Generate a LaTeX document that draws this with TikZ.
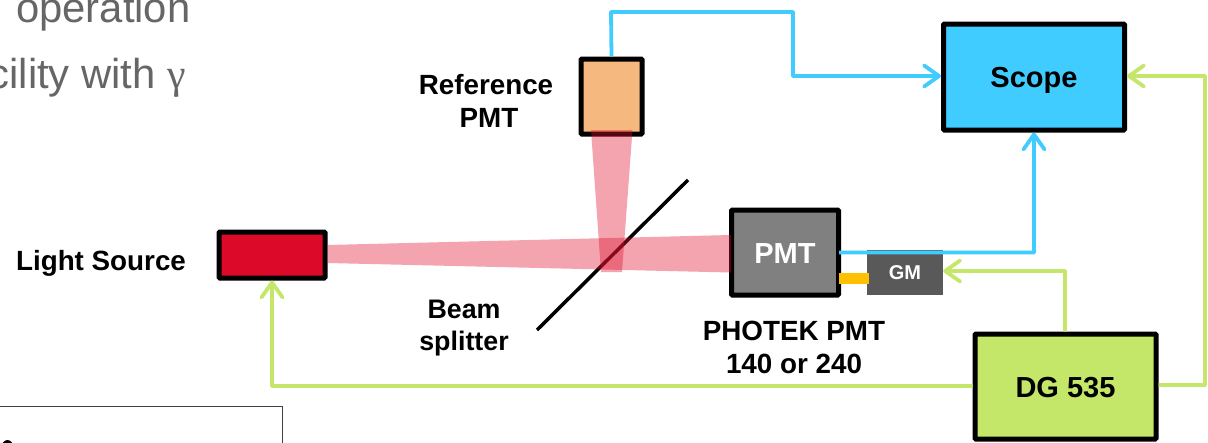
\documentclass[tikz,border=0pt]{standalone}
\usepackage{fontspec}
\setmainfont{Liberation Sans}
\newfontfamily\serifgamma{Liberation Serif}
\usetikzlibrary{arrows.meta}
\definecolor{cyanline}{HTML}{40CCFF}
\definecolor{greenline}{HTML}{C4E76A}
\definecolor{graytext}{HTML}{666666}
\definecolor{beamred}{HTML}{E0102F}
\definecolor{orangebox}{HTML}{F5B97F}
\definecolor{redbox}{HTML}{DC0A28}
\definecolor{pmtgray}{HTML}{808080}
\definecolor{gmgray}{HTML}{595959}
\definecolor{ambergold}{HTML}{FFC000}
\tikzset{
  x=1pt,y=-1pt,
  devbox/.style={draw=black,line width=5pt,rounded corners=1pt,inner sep=0pt,
    text height=21pt,text depth=0pt,
    font=\fontsize{29}{34}\selectfont\bfseries,align=center},
  lbl/.style={inner sep=0pt,align=center,font=\fontsize{27.8}{33}\selectfont\bfseries},
  lblsmall/.style={inner sep=0pt,align=center,font=\fontsize{26.8}{32}\selectfont\bfseries},
  big/.style={inner sep=0pt,anchor=base west,text=graytext,font=\fontsize{41.8}{48}\selectfont},
  wire/.style={line width=3.8pt,rounded corners=0.5pt},
  cyanwire/.style={wire,draw=cyanline,-{Straight Barb[length=15pt,width=21pt,round]}},
  greenwire/.style={wire,draw=greenline,-{Straight Barb[length=15pt,width=21pt,round]}},
  beam/.style={fill=beamred,fill opacity=.38},
}
\begin{document}
\begin{tikzpicture}
\clip (0,0) rectangle (1208,442);
\useasboundingbox (0,0) rectangle (1208,442);
\fill[white] (0,0) rectangle (1208,442);

% slide text behind the figure
\node[big] (line1) at (16,22) {operation};
\node[big,anchor=base east] (line2) at (156,88) {cility with};
\node[big] (gammasym) at (167,88) {\serifgamma γ};

% clipped text box, bottom left
\draw[line width=1pt,draw=black!75] (-2,406.5) -- (282.5,406.5) -- (282.5,445);
\fill[black] (7.5,448) ellipse [x radius=6,y radius=8];

% devices
\node[devbox,fill=orangebox,minimum width=61pt,minimum height=75pt] (refpmt) at (611.5,96.5) {};
\node[devbox,fill=cyanline,minimum width=181pt,minimum height=106pt] (scope) at (1034,77) {Scope};
\node[devbox,fill=redbox,minimum width=106pt,minimum height=46pt] (source) at (272,255) {};
\node[devbox,fill=pmtgray,text=white,minimum width=107pt,minimum height=85pt] (pmt) at (785,252.5) {PMT};
\node[devbox,fill=greenline,minimum width=181pt,minimum height=105pt] (dg) at (1065.5,386.5) {DG 535};
\node[fill=gmgray,text=white,inner sep=0pt,minimum width=76pt,minimum height=45pt,
  text height=14.5pt,text depth=0pt,
  font=\fontsize{20}{24}\selectfont\bfseries] (gm) at (905,272.5) {GM};
\fill[ambergold] (839,273) rectangle (869,284);

% labels
\node[lbl] (reflabel) at (486,101) {Reference\\\hspace*{6pt}PMT};
\node[lbl] (sourcelabel) at (101,263) {Light Source};
\node[lblsmall] (splitlabel) at (464,328) {Beam\\splitter};
\node[lbl] (photek) at (794,347.5) {PHOTEK PMT\\140 or 240};

% cyan signals
\coordinate (c1) at (611,12);
\coordinate (c2) at (793,12);
\coordinate (c3) at (793,76);
\coordinate (c4) at (1034,252.5);
\coordinate (pmtout) at (839,252.5);
\draw[cyanwire] (refpmt.north) -- (c1) -- (c2) -- (c3) -- (scope.west |- c3);
\draw[cyanwire] (pmtout) -- (c4) -- (scope.south);

% green triggers
\coordinate (g1) at (1205,385);
\coordinate (g2) at (1205,76);
\coordinate (g3) at (1065,271);
\coordinate (g4) at (272,386);
\draw[greenwire] (dg.east |- g1) -- (g1) -- (g2) -- (scope.east |- g2);
\draw[greenwire] (dg.north -| g3) -- (g3) -- (gm.east |- g3);
\draw[greenwire] (dg.west |- g4) -- (g4) -- (source.south);

% beam splitter
\coordinate (s1) at (537,330);
\coordinate (s2) at (688,180);
\draw[line width=3.5pt] (s1) -- (s2);

% light beams
\fill[beam] (source.east |- 0,245) -- (731,235) -- (731,272.5) -- (source.east |- 0,263) -- cycle;
\fill[beam] (591,130) -- (632.5,130) -- (622,272) -- (601,272) -- cycle;
\end{tikzpicture}
\end{document}
